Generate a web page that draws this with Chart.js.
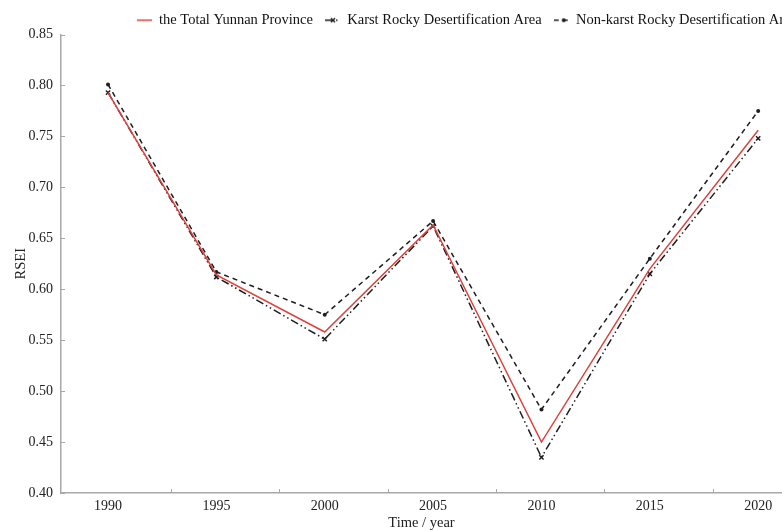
<!DOCTYPE html>
<html>
<head>
<meta charset="utf-8">
<script src="https://cdn.jsdelivr.net/npm/chart.js@4"></script>
<style>
  html, body { margin: 0; padding: 0; background: #fff; }
  #wrap { width: 782px; height: 530px; }
</style>
</head>
<body>
<div id="wrap"><canvas id="rseiChart"></canvas></div>
<script>
// values
const years = [1990, 1995, 2000, 2005, 2010, 2015, 2020];
const yunnan = [0.793, 0.614, 0.558, 0.663, 0.450, 0.620, 0.756];
const karst = [0.793, 0.612, 0.551, 0.662, 0.435, 0.615, 0.748];
const nonKarst = [0.801, 0.617, 0.575, 0.667, 0.482, 0.630, 0.775];
const yTicks = [0.40, 0.45, 0.50, 0.55, 0.60, 0.65, 0.70, 0.75, 0.80, 0.85];

const FONT = 'Liberation Serif';
const AXIS = '#a8a8a8';
const RED = '#e0403c';
const INK = '#1e1e1e';

const karstDash = [8, 3, 1.5, 3, 1.5, 3];
const nonKarstDash = [5, 4];

function pts(values) {
    return years.map((y, i) => ({x: y, y: values[i]}));
}

// small line+marker pictures for the legend
function legendSample(color, dash, marker) {
    const c = document.createElement('canvas');
    c.width = 15; c.height = 10;
    const g = c.getContext('2d');
    g.strokeStyle = color;
    g.lineWidth = 1.5;
    g.setLineDash(dash);
    g.beginPath(); g.moveTo(0, 5); g.lineTo(15, 5); g.stroke();
    g.setLineDash([]);
    g.fillStyle = color;
    if (marker === 'x') {
        g.beginPath();
        g.moveTo(6, 3); g.lineTo(10, 7); g.moveTo(10, 3); g.lineTo(6, 7);
        g.stroke();
    } else if (marker === 'dot') {
        g.beginPath(); g.arc(10, 5, 2, 0, Math.PI * 2); g.fill();
    }
    return c;
}

const samples = [
    legendSample(RED, [], null),
    legendSample(INK, karstDash, 'x'),
    legendSample(INK, nonKarstDash, 'dot')
];

// the legend in the figure runs past the right edge
const legendShift = {
    id: 'legendShift',
    afterLayout(chart) {
        const lg = chart.legend;
        lg.left += 27; lg.right += 27;
        lg.top += 3; lg.bottom += 3;
    }
};

// inward tick marks like the original figure
const innerTicks = {
    id: 'innerTicks',
    afterDraw(chart) {
        const {ctx, scales: {x, y}} = chart;
        ctx.save();
        ctx.strokeStyle = AXIS;
        ctx.lineWidth = 1;
        yTicks.forEach(v => {
            const py = Math.round(y.getPixelForValue(v)) + 0.5;
            ctx.beginPath(); ctx.moveTo(x.left, py); ctx.lineTo(x.left + 4, py); ctx.stroke();
        });
        years.slice(0, -1).forEach(v => {
            const px = Math.round(x.getPixelForValue(v + 2.9)) + 0.5;
            ctx.beginPath(); ctx.moveTo(px, y.bottom); ctx.lineTo(px, y.bottom - 4); ctx.stroke();
        });
        ctx.restore();
    }
};

Chart.defaults.font.family = FONT;
Chart.defaults.font.size = 14;
Chart.defaults.color = '#222';

new Chart(document.getElementById('rseiChart'), {
    type: 'line',
    data: {
        datasets: [
            {
                label: 'the Total Yunnan Province',
                data: pts(yunnan),
                borderColor: RED,
                borderWidth: 1.5,
                pointRadius: 0
            },
            {
                label: 'Karst Rocky Desertification Area',
                data: pts(karst),
                borderColor: INK,
                borderWidth: 1.5,
                borderDash: karstDash,
                pointStyle: 'crossRot',
                pointRadius: 3,
                pointBorderWidth: 1.5,
                pointBorderColor: INK
            },
            {
                label: 'Non-karst Rocky Desertification Area',
                data: pts(nonKarst),
                borderColor: INK,
                borderWidth: 1.5,
                borderDash: nonKarstDash,
                pointStyle: 'circle',
                pointRadius: 2,
                pointBackgroundColor: INK,
                pointBorderWidth: 0
            }
        ]
    },
    options: {
        responsive: true,
        maintainAspectRatio: false,
        animation: false,
        layout: { autoPadding: false, padding: { top: -2, right: 0, left: 0, bottom: 0 } },
        plugins: {
            tooltip: { enabled: false },
            legend: {
                position: 'top',
                align: 'end',
                labels: {
                    usePointStyle: true,
                    pointStyleWidth: 15,
                    padding: 12,
                    color: '#111',
                    font: { family: FONT, size: 14.5 },
                    generateLabels(chart) {
                        return chart.data.datasets.map((ds, i) => ({
                            text: ds.label,
                            pointStyle: samples[i],
                            datasetIndex: i,
                            hidden: false,
                            lineWidth: 0,
                            fontColor: '#111'
                        }));
                    }
                }
            }
        },
        scales: {
            x: {
                type: 'linear',
                min: 1987.83,
                max: 2021.1,
                afterBuildTicks(scale) {
                    scale.ticks = years.map(v => ({value: v}));
                },
                afterFit(scale) {
                    scale.height = 37;
                    scale.paddingLeft = 0;
                    scale.paddingRight = 0;
                },
                ticks: {
                    padding: 5,
                    color: '#222',
                    callback: v => String(v),
                    maxRotation: 0,
                    autoSkip: false
                },
                grid: { display: true, drawOnChartArea: false, drawTicks: false },
                border: { display: true, color: AXIS, width: 1.5 },
                title: {
                    display: true,
                    text: 'Time / year',
                    color: '#222',
                    font: { family: FONT, size: 14.5, lineHeight: 1 },
                    padding: { top: 0, bottom: 0 }
                }
            },
            y: {
                min: 0.40,
                max: 0.85,
                afterBuildTicks(scale) {
                    scale.ticks = yTicks.map(v => ({value: v}));
                },
                afterFit(scale) { scale.width = 61; },
                ticks: {
                    padding: 8,
                    color: '#222',
                    callback: v => v.toFixed(2)
                },
                grid: { display: true, drawOnChartArea: false, drawTicks: false },
                border: { display: true, color: AXIS, width: 1.5 },
                title: {
                    display: true,
                    text: 'RSEI',
                    color: '#222',
                    font: { family: FONT, size: 14.5 },
                    padding: { top: 12, bottom: 0 }
                }
            }
        }
    },
    plugins: [legendShift, innerTicks]
});
</script>
</body>
</html>
